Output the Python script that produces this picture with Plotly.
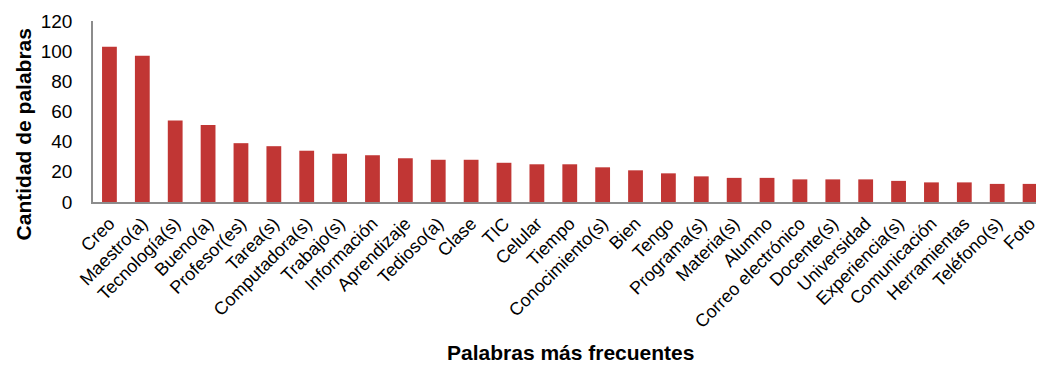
import plotly.graph_objects as go

# Most frequent words and their counts
palabras = [
    "Creo", "Maestro(a)", "Tecnología(s)", "Bueno(a)", "Profesor(es)", "Tarea(s)",
    "Computadora(s)", "Trabajo(s)", "Información", "Aprendizaje", "Tedioso(a)",
    "Clase", "TIC", "Celular", "Tiempo", "Conocimiento(s)", "Bien", "Tengo",
    "Programa(s)", "Materia(s)", "Alumno", "Correo electrónico", "Docente(s)",
    "Universidad", "Experiencia(s)", "Comunicación", "Herramientas",
    "Teléfono(s)", "Foto",
]
cantidad = [
    103, 97, 54, 51, 39, 37, 34, 32, 31, 29, 28, 28, 26, 25, 25, 23, 21, 19,
    17, 16, 16, 15, 15, 15, 14, 13, 13, 12, 12,
]
y_ticks = [0, 20, 40, 60, 80, 100, 120]

FONT = "Liberation Sans, Arial, sans-serif"

fig = go.Figure(
    go.Bar(
        x=palabras,
        y=cantidad,
        width=0.45,
        marker=dict(color="#c13634", line=dict(width=0)),
        hoverinfo="x+y",
    )
)

fig.update_layout(
    width=1039,
    height=368,
    margin=dict(l=93, r=0, t=21, b=166),
    paper_bgcolor="white",
    plot_bgcolor="white",
    showlegend=False,
    font=dict(family=FONT, color="black"),
    xaxis=dict(
        type="category",
        range=[-0.5, 28.18],
        tickangle=-45,
        tickfont=dict(size=18, family=FONT, color="black"),
        showline=True,
        linecolor="#8c8c8c",
        linewidth=2,
        showgrid=False,
        ticks="",
        zeroline=False,
        ticklabelstandoff=2,
    ),
    yaxis=dict(
        range=[0, 120],
        tickvals=y_ticks,
        tickfont=dict(size=19, family=FONT, color="black"),
        showline=True,
        linecolor="#8c8c8c",
        linewidth=1.5,
        showgrid=False,
        ticks="",
        zeroline=False,
        ticklabelstandoff=15,
    ),
    annotations=[
        dict(
            text="<b>Cantidad de palabras</b>",
            xref="paper", yref="paper",
            x=-0.0737, y=0.3706,
            textangle=-90,
            showarrow=False,
            font=dict(size=21, family=FONT, color="black"),
            xanchor="center", yanchor="middle",
        ),
        dict(
            text="<b>Palabras más frecuentes</b>",
            xref="paper", yref="paper",
            x=0.5065, y=-0.83,
            showarrow=False,
            font=dict(size=21, family=FONT, color="black"),
            xanchor="center", yanchor="middle",
        ),
    ],
)

fig.write_html("out.html")
